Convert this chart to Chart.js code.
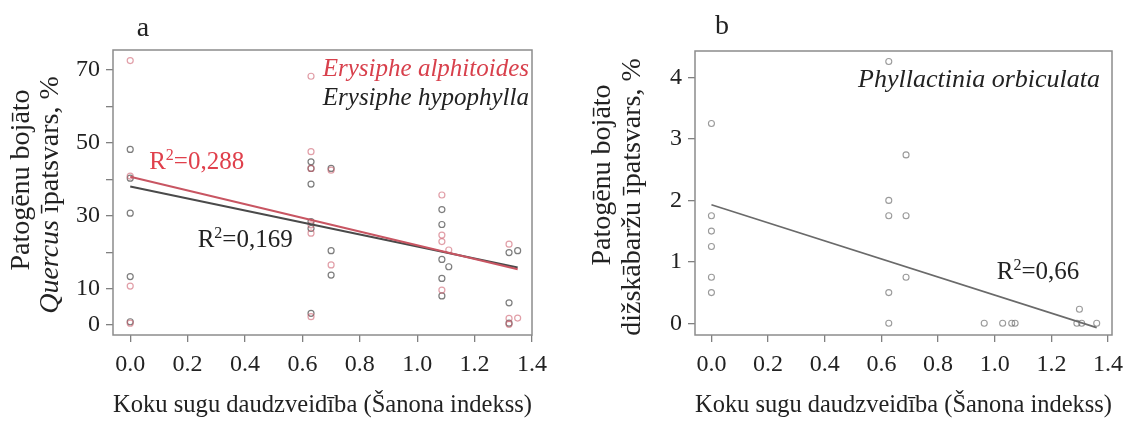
<!DOCTYPE html>
<html>
<head>
<meta charset="utf-8">
<script src="https://cdn.jsdelivr.net/npm/chart.js@4.4.1/dist/chart.umd.min.js"></script>
<style>
html, body { margin: 0; padding: 0; background: #fff; }
#wrap { position: relative; width: 1136px; height: 421px; }
.pane { position: absolute; top: 0; width: 568px; height: 421px; }
</style>
</head>
<body>
<div id="wrap">
  <div class="pane" style="left:0"><canvas id="chartA" width="568" height="421"></canvas></div>
  <div class="pane" style="left:568px"><canvas id="chartB" width="568" height="421"></canvas></div>
</div>
<script>
// tick values
var xTicks = [0, 0.2, 0.4, 0.6, 0.8, 1.0, 1.2, 1.4];
var yTicksA = [0, 10, 20, 30, 40, 50, 60, 70];
var yLabelsA = [0, 10, 30, 50, 70];
var yTicksB = [0, 1, 2, 3, 4];

// panel a: Erysiphe hypophylla (dark)
var hypoX = [0, 0, 0, 0, 0,
             0.63, 0.63, 0.63, 0.63, 0.63, 0.63,
             0.70, 0.70, 0.70,
             1.086, 1.086, 1.086, 1.086, 1.086,
             1.11,
             1.32, 1.32, 1.32,
             1.35];
var hypoY = [48.2, 40.3, 30.7, 13.3, 0.9,
             44.8, 43, 38.7, 28.4, 26.5, 3.2,
             43, 20.4, 13.7,
             31.7, 27.6, 18, 12.8, 8,
             16,
             19.9, 6.1, 0.5,
             20.4];

// panel a: Erysiphe alphitoides (red)
var alphX = [0, 0, 0, 0,
             0.63, 0.63, 0.63, 0.63, 0.63, 0.63,
             0.70, 0.70,
             1.086, 1.086, 1.086, 1.086,
             1.11,
             1.32, 1.32, 1.32,
             1.35];
var alphY = [72.6, 40.9, 10.7, 0.5,
             68.3, 47.6, 43, 27.5, 25.2, 2.3,
             42.5, 16.5,
             35.7, 24.7, 22.9, 9.6,
             20.6,
             22.2, 1.8, 0.2,
             1.9];

// fitted lines, panel a
var fitAlphX = [0, 1.35];
var fitAlphY = [40.7, 15.3];
var fitHypoX = [0, 1.35];
var fitHypoY = [38.0, 15.8];

// panel b: Phyllactinia orbiculata
var orbX = [0, 0, 0, 0, 0, 0,
            0.626, 0.626, 0.626, 0.626, 0.626,
            0.687, 0.687, 0.687,
            0.963, 1.028, 1.06, 1.072,
            1.29, 1.299, 1.307, 1.36];
var orbY = [3.25, 1.75, 1.5, 1.25, 0.75, 0.5,
            4.26, 2.0, 1.75, 0.5, 0,
            2.74, 1.75, 0.75,
            0, 0, 0, 0,
            0, 0.23, 0, 0];
var fitOrbX = [0, 1.36];
var fitOrbY = [1.93, -0.07];

var serif = '"Liberation Serif", "Times New Roman", serif';
var xTitle = 'Koku sugu daudzveidība (Šanona indekss)';

function pts(xs, ys) {
    return xs.map(function(x, i){ return {x: x, y: ys[i]}; });
}

function drawR2(ctx, x, y, value, color) {
    ctx.fillStyle = color;
    ctx.textAlign = 'left';
    ctx.textBaseline = 'middle';
    ctx.font = '25px ' + serif;
    ctx.fillText('R', x, y);
    var w = ctx.measureText('R').width;
    ctx.font = '16px ' + serif;
    ctx.fillText('2', x + w, y - 7);
    var w2 = ctx.measureText('2').width;
    ctx.font = '25px ' + serif;
    ctx.fillText('=' + value, x + w + w2, y);
}

// parts: [text, italic]
function drawYTitle(ctx, cx, cy, parts) {
    ctx.save();
    ctx.translate(cx, cy);
    ctx.rotate(-Math.PI / 2);
    ctx.fillStyle = '#222';
    ctx.textBaseline = 'middle';
    ctx.textAlign = 'left';
    var total = 0;
    parts.forEach(function(p){
        ctx.font = (p[1] ? 'italic ' : '') + '28px ' + serif;
        total += ctx.measureText(p[0]).width;
    });
    var x = -total / 2;
    parts.forEach(function(p){
        ctx.font = (p[1] ? 'italic ' : '') + '28px ' + serif;
        ctx.fillText(p[0], x, 0);
        x += ctx.measureText(p[0]).width;
    });
    ctx.restore();
}

function boxAround(ctx, a) {
    ctx.strokeStyle = '#8c8c8c';
    ctx.lineWidth = 1.5;
    ctx.strokeRect(a.left, a.top, a.right - a.left, a.bottom - a.top);
}

var decorA = {
    id: 'decorA',
    afterDraw: function(chart) {
        var ctx = chart.ctx, a = chart.chartArea;
        var sx = chart.scales.x, sy = chart.scales.y;
        ctx.save();
        boxAround(ctx, a);
        // panel letter
        ctx.fillStyle = '#222';
        ctx.font = '28px ' + serif;
        ctx.textAlign = 'center';
        ctx.textBaseline = 'middle';
        ctx.fillText('a', 143, 29);
        // legend
        ctx.font = 'italic 25px ' + serif;
        ctx.textAlign = 'right';
        ctx.fillStyle = '#d8404c';
        ctx.fillText('Erysiphe alphitoides', a.right - 3, 69);
        ctx.fillStyle = '#222';
        ctx.fillText('Erysiphe hypophylla', a.right - 3, 98);
        // R2 labels
        drawR2(ctx, sx.getPixelForValue(0.066), sy.getPixelForValue(44.6), '0,288', '#e0404c');
        drawR2(ctx, sx.getPixelForValue(0.235), sy.getPixelForValue(23.2), '0,169', '#222');
        drawYTitle(ctx, 22, 180, [['Patogēnu bojāto', false]]);
        drawYTitle(ctx, 51, 195, [['Quercus', true], [' īpatsvars, %', false]]);
        ctx.restore();
    }
};

var decorB = {
    id: 'decorB',
    afterDraw: function(chart) {
        var ctx = chart.ctx, a = chart.chartArea;
        var sx = chart.scales.x, sy = chart.scales.y;
        ctx.save();
        boxAround(ctx, a);
        ctx.fillStyle = '#222';
        ctx.font = '28px ' + serif;
        ctx.textAlign = 'center';
        ctx.textBaseline = 'middle';
        ctx.fillText('b', 722 - 568, 27);
        ctx.font = 'italic 26px ' + serif;
        ctx.textAlign = 'right';
        ctx.fillText('Phyllactinia orbiculata', a.right - 12, 80);
        drawR2(ctx, sx.getPixelForValue(1.007), sy.getPixelForValue(0.83), '0,66', '#222');
        drawYTitle(ctx, 35, 175, [['Patogēnu bojāto', false]]);
        drawYTitle(ctx, 65, 197, [['dižskābaržu īpatsvars, %', false]]);
        ctx.restore();
    }
};

function xScale(min, max) {
    return {
        type: 'linear',
        min: min,
        max: max,
        afterBuildTicks: function(s){ s.ticks = xTicks.map(function(v){ return {value: v}; }); },
        afterFit: function(s){ s.height = 86; },
        grid: { drawOnChartArea: false, tickLength: 7, color: '#808080', lineWidth: 1.3 },
        border: { display: false },
        ticks: {
            color: '#222',
            padding: 8,
            maxRotation: 0,
            autoSkip: false,
            font: { family: serif, size: 24 },
            callback: function(v){ return v.toFixed(1); }
        },
        title: {
            display: true,
            text: xTitle,
            color: '#222',
            font: { family: serif, size: 26, lineHeight: 1 },
            padding: { top: 0, bottom: 3 }
        }
    };
}

function yScale(min, max, tickVals, labelVals, width) {
    return {
        type: 'linear',
        min: min,
        max: max,
        afterBuildTicks: function(s){ s.ticks = tickVals.map(function(v){ return {value: v}; }); },
        afterFit: function(s){ s.width = width; },
        grid: { drawOnChartArea: false, tickLength: 7, color: '#808080', lineWidth: 1.3 },
        border: { display: false },
        ticks: {
            color: '#222',
            padding: 6,
            autoSkip: false,
            font: { family: serif, size: 24 },
            callback: function(v){ return labelVals.indexOf(v) >= 0 ? String(v) : ''; }
        }
    };
}

var baseOpts = {
    responsive: false,
    animation: false,
    plugins: { legend: { display: false }, tooltip: { enabled: false } }
};

new Chart(document.getElementById('chartA').getContext('2d'), {
    type: 'scatter',
    data: {
        datasets: [
            { data: pts(fitAlphX, fitAlphY), showLine: true, pointRadius: 0, borderColor: '#c85562', borderWidth: 2 },
            { data: pts(fitHypoX, fitHypoY), showLine: true, pointRadius: 0, borderColor: '#4a4a4a', borderWidth: 2 },
            { data: pts(alphX, alphY), pointRadius: 3, borderWidth: 1.2, borderColor: 'rgba(205,95,110,0.6)', backgroundColor: 'rgba(0,0,0,0)' },
            { data: pts(hypoX, hypoY), pointRadius: 3, borderWidth: 1.2, borderColor: 'rgba(70,70,70,0.7)', backgroundColor: 'rgba(0,0,0,0)' }
        ]
    },
    options: Object.assign({}, baseOpts, {
        layout: { padding: { left: 0, right: 36, top: 50, bottom: 0 } },
        scales: {
            x: xScale(-0.06, 1.4),
            y: yScale(-2.74, 75.5, yTicksA, yLabelsA, 113)
        }
    }),
    plugins: [decorA]
});

new Chart(document.getElementById('chartB').getContext('2d'), {
    type: 'scatter',
    data: {
        datasets: [
            { data: pts(fitOrbX, fitOrbY), showLine: true, pointRadius: 0, borderColor: '#6a6a6a', borderWidth: 1.6 },
            { data: pts(orbX, orbY), pointRadius: 3, borderWidth: 1.1, borderColor: 'rgba(100,100,100,0.65)', backgroundColor: 'rgba(0,0,0,0)' }
        ]
    },
    options: Object.assign({}, baseOpts, {
        layout: { padding: { left: 0, right: 24, top: 51, bottom: 0 } },
        scales: {
            x: xScale(-0.058, 1.414),
            y: yScale(-0.19, 4.43, yTicksB, yTicksB, 127)
        }
    }),
    plugins: [decorB]
});
</script>
</body>
</html>
